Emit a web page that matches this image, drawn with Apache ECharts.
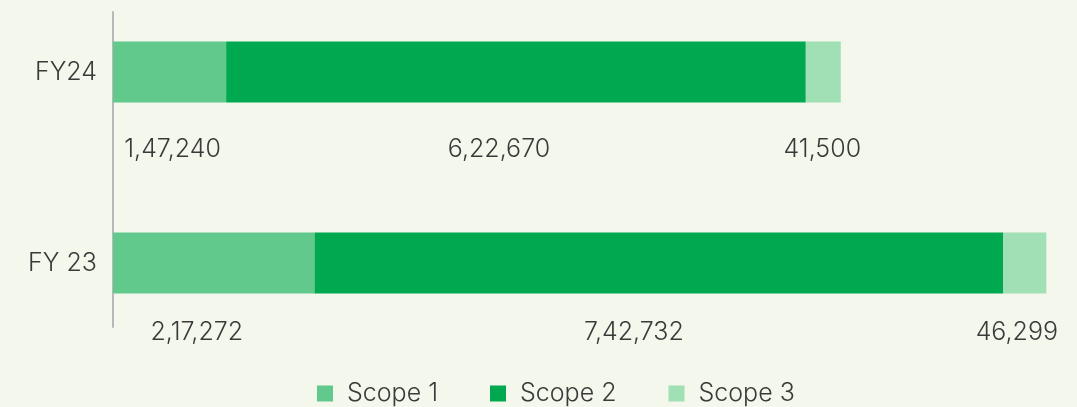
<!DOCTYPE html>
<html>
<head>
<meta charset="utf-8">
<script src="https://cdn.jsdelivr.net/npm/echarts@6/dist/echarts.min.js"></script>
<style>
html, body { margin: 0; padding: 0; background: #f4f7eb; }
#main { width: 1077px; height: 407px; }
</style>
</head>
<body>
<div id="main"></div>
<script>
var years = ['FY24', 'FY 23'];
var seriesNames = ['Scope 1', 'Scope 2', 'Scope 3'];
// bar lengths as drawn (FY24, FY 23)
var scope1 = [122000, 217272];
var scope2 = [625000, 742732];
var scope3 = [37700, 46299];
// label text shown under each segment
var scope1Labels = ['1,47,240', '2,17,272'];
var scope2Labels = ['6,22,670', '7,42,732'];
var scope3Labels = ['41,500', '46,299'];

var colors = ['#62c98d', '#00a84f', '#a1dfb5'];
var textColor = '#3a3a3a';
var fontFamily = 'Inter, "Open Sans", sans-serif';

// label offsets [x, y] per year, per series (layout only)
var labelOffsets = [
	[[3, 3], [-17, 3], [-1, 3]],
	[[-17, -5], [-25, -5], [-8, -5]]
];

function buildSeries(idx, values, labels) {
	var data = [];
	for (var i = 0; i < values.length; i++) {
		data.push({
			value: values[i],
			label: {
				formatter: labels[i],
				offset: labelOffsets[i][idx]
			}
		});
	}
	return {
		name: seriesNames[idx],
		type: 'bar',
		stack: 'total',
		barWidth: 61,
		clip: false,
		xAxisIndex: 0,
		yAxisIndex: 0,
		itemStyle: { color: colors[idx] },
		label: {
			show: true,
			position: 'bottom',
			distance: 31,
			color: textColor,
			fontFamily: fontFamily,
			fontWeight: 300,
			fontSize: 25
		},
		data: data
	};
}

var chart = echarts.init(document.getElementById('main'));
var option = {
	backgroundColor: '#f4f7eb',
	animation: false,
	legend: {
		bottom: -4,
		left: 312,
		itemWidth: 16,
		itemHeight: 16,
		itemGap: 52,
		icon: 'rect',
		textStyle: { color: textColor, fontFamily: fontFamily, fontWeight: 300, fontSize: 25, padding: [0, 0, 0, 9] },
		data: seriesNames
	},
	grid: [
		{ left: 113, right: 18, top: 72, bottom: 144 },
		{ left: 113, right: 18, top: 12, bottom: 80 }
	],
	xAxis: [
		{ type: 'value', min: 0, max: 1020000, show: false, gridIndex: 0 },
		{ type: 'value', min: 0, max: 1020000, show: false, gridIndex: 1 }
	],
	yAxis: [
		{
			type: 'category',
			inverse: true,
			boundaryGap: false,
			gridIndex: 0,
			data: years,
			axisLine: { show: false },
			axisTick: { show: false },
			axisLabel: { color: textColor, fontFamily: fontFamily, fontWeight: 300, fontSize: 25, margin: 16 }
		},
		{
			type: 'category',
			gridIndex: 1,
			data: years,
			axisLine: { show: true, lineStyle: { color: '#b8b8b8', width: 2 } },
			axisTick: { show: false },
			axisLabel: { show: false }
		}
	],
	series: [
		buildSeries(0, scope1, scope1Labels),
		buildSeries(1, scope2, scope2Labels),
		buildSeries(2, scope3, scope3Labels)
	]
};
chart.setOption(option);
</script>
</body>
</html>
